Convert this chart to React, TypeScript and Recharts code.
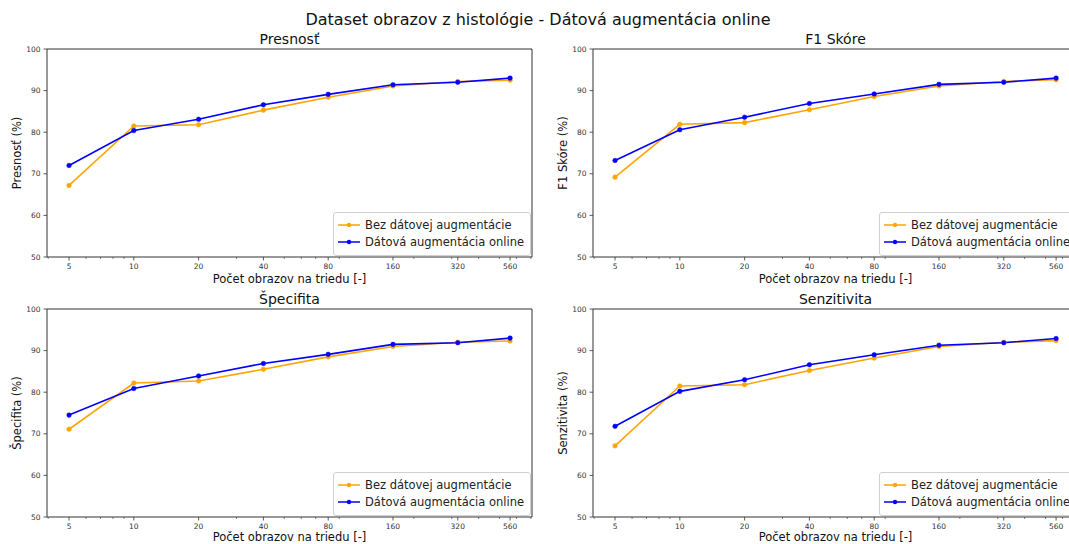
import { LineChart, Line, XAxis, YAxis, ReferenceLine, Legend, Label } from "recharts";

// počet obrazov na triedu (log x-os)
const counts = [5, 10, 20, 40, 80, 160, 320, 560];
const minorTicks = [4, 6, 7, 8, 9, 30, 50, 60, 70, 90, 200, 300, 400, 500, 600, 700];
const yTicks = [50, 60, 70, 80, 90, 100];

const presnostBez = [67.2, 81.5, 81.8, 85.3, 88.4, 91.1, 92.2, 92.5];
const presnostAug = [72.0, 80.4, 83.1, 86.6, 89.1, 91.4, 92.0, 93.0];
const f1Bez = [69.2, 81.9, 82.3, 85.4, 88.6, 91.1, 92.2, 92.6];
const f1Aug = [73.2, 80.6, 83.6, 86.9, 89.2, 91.5, 92.0, 93.0];
const specBez = [71.1, 82.2, 82.7, 85.5, 88.5, 91.0, 92.0, 92.3];
const specAug = [74.5, 80.9, 83.9, 86.9, 89.1, 91.5, 91.9, 93.0];
const senzBez = [67.1, 81.5, 81.8, 85.2, 88.2, 91.0, 92.0, 92.4];
const senzAug = [71.8, 80.2, 83.0, 86.6, 89.0, 91.3, 91.9, 92.9];

const ORANGE = "#FFA500";
const BLUE = "#0000FF";
const AXIS = "#333";
const FONT = "'DejaVu Sans', sans-serif";

const PLOT_W = 485;
const PLOT_H = 208;
const Y_W = 40;
const X_H = 20;
const M = { top: 20, right: 8, left: 7, bottom: 20 };
const CHART_W = M.left + Y_W + PLOT_W + M.right;
const CHART_H = M.top + PLOT_H + X_H + M.bottom;

function XTick(props: any) {
  const { x, y, payload } = props;
  const major = counts.includes(payload.value);
  return (
    <g>
      <line x1={x} x2={x} y1={y} y2={y + (major ? 3.5 : 2)} stroke={AXIS} strokeWidth={major ? 0.8 : 0.6} />
      {major && (
        <text x={x} y={y + 12} textAnchor="middle" fontSize={7.5} fill={AXIS} fontFamily={FONT}>
          {payload.value}
        </text>
      )}
    </g>
  );
}

function LegendBox() {
  const items = [
    { label: "Bez dátovej augmentácie", color: ORANGE },
    { label: "Dátová augmentácia online", color: BLUE },
  ];
  return (
    <div
      style={{
        width: 196,
        height: 39,
        border: "1px solid #d0d0d0",
        borderRadius: 3,
        background: "rgba(255,255,255,0.85)",
        fontFamily: FONT,
        fontSize: 11.5,
        color: "#222",
        paddingTop: 3,
        boxSizing: "content-box",
      }}
    >
      {items.map((it) => (
        <div key={it.label} style={{ display: "flex", alignItems: "center", height: 17 }}>
          <svg width={28} height={10} style={{ marginLeft: 3 }}>
            <line x1={1} x2={23} y1={5} y2={5} stroke={it.color} strokeWidth={1.5} />
            <circle cx={12} cy={5} r={2.2} fill={it.color} />
          </svg>
          <span style={{ whiteSpace: "nowrap" }}>{it.label}</span>
        </div>
      ))}
    </div>
  );
}

interface PanelProps {
  title: string;
  yLabel: string;
  bez: number[];
  aug: number[];
  plotLeft: number;
  plotTop: number;
  xLabelDy: number;
}

function Panel({ title, yLabel, bez, aug, plotLeft, plotTop, xLabelDy }: PanelProps) {
  const data = counts.map((n, i) => ({ n, bez: bez[i], aug: aug[i] }));
  const left = plotLeft - M.left - Y_W;
  const top = plotTop - M.top;
  return (
    <div style={{ position: "absolute", left, top, width: CHART_W, height: CHART_H }}>
      <div
        style={{
          position: "absolute",
          left: M.left + Y_W,
          width: PLOT_W,
          top: 3,
          textAlign: "center",
          fontFamily: FONT,
          fontSize: 14,
          lineHeight: "14px",
          color: "#111",
        }}
      >
        {title}
      </div>
      <LineChart width={CHART_W} height={CHART_H} data={data} margin={M}>
        <XAxis
          dataKey="n"
          type="number"
          scale="log"
          domain={[3.95, 708]}
          allowDataOverflow
          ticks={[...counts, ...minorTicks]}
          interval={0}
          tick={<XTick />}
          tickSize={0}
          tickMargin={0}
          tickLine={false}
          height={X_H}
          axisLine={{ stroke: AXIS, strokeWidth: 1 }}
        >
          <Label
            content={(p: any) => (
              <text
                x={p.viewBox.x + p.viewBox.width / 2}
                y={p.viewBox.y + xLabelDy}
                textAnchor="middle"
                dominantBaseline="central"
                fontSize={11.5}
                fontFamily={FONT}
                fill="#111"
              >
                Počet obrazov na triedu [-]
              </text>
            )}
          />
        </XAxis>
        <YAxis
          domain={[50, 100]}
          ticks={yTicks}
          width={Y_W}
          tickSize={3.5}
          tickMargin={3}
          tick={{ fontSize: 7.5, fill: AXIS, fontFamily: FONT }}
          tickLine={{ stroke: AXIS, strokeWidth: 0.8 }}
          axisLine={{ stroke: AXIS, strokeWidth: 1 }}
        >
          <Label
            content={(p: any) => {
              const cx = p.viewBox.x + 10;
              const cy = p.viewBox.y + p.viewBox.height / 2;
              return (
                <text
                  x={cx}
                  y={cy}
                  transform={`rotate(-90 ${cx} ${cy})`}
                  textAnchor="middle"
                  dominantBaseline="central"
                  fontSize={11.5}
                  fontFamily={FONT}
                  fill="#111"
                >
                  {yLabel}
                </text>
              );
            }}
          />
        </YAxis>
        <ReferenceLine y={100} stroke={AXIS} strokeWidth={1} />
        <ReferenceLine x={708} stroke={AXIS} strokeWidth={1} />
        <Line
          dataKey="bez"
          stroke={ORANGE}
          strokeWidth={1.6}
          dot={{ r: 2.3, fill: ORANGE, stroke: ORANGE, strokeWidth: 0.5 }}
          isAnimationActive={false}
        />
        <Line
          dataKey="aug"
          stroke={BLUE}
          strokeWidth={1.6}
          dot={{ r: 2.3, fill: BLUE, stroke: BLUE, strokeWidth: 0.5 }}
          isAnimationActive={false}
        />
        <Legend
          layout="horizontal"
          verticalAlign="middle"
          align="center"
          wrapperStyle={{
            position: "absolute",
            left: M.left + Y_W + 286,
            top: M.top + 163,
            width: 198,
            height: 41,
          }}
          content={() => <LegendBox />}
        />
      </LineChart>
    </div>
  );
}

export default function App() {
  return (
    <div
      style={{
        position: "absolute",
        left: 0,
        top: 0,
        width: 1069,
        height: 544,
        overflow: "hidden",
        background: "#fff",
      }}
    >
      <div
        style={{
          position: "absolute",
          left: 0,
          width: 1076,
          top: 11,
          textAlign: "center",
          fontFamily: FONT,
          fontSize: 16,
          lineHeight: "18px",
          color: "#111",
        }}
      >
        Dataset obrazov z histológie - Dátová augmentácia online
      </div>
      <Panel title="Presnosť" yLabel="Presnosť (%)" bez={presnostBez} aug={presnostAug} plotLeft={47} plotTop={49} xLabelDy={22} />
      <Panel title="F1 Skóre" yLabel="F1 Skóre (%)" bez={f1Bez} aug={f1Aug} plotLeft={593} plotTop={49} xLabelDy={22} />
      <Panel title="Špecifita" yLabel="Špecifita (%)" bez={specBez} aug={specAug} plotLeft={47} plotTop={309} xLabelDy={19.5} />
      <Panel title="Senzitivita" yLabel="Senzitivita (%)" bez={senzBez} aug={senzAug} plotLeft={593} plotTop={309} xLabelDy={19.5} />
    </div>
  );
}
